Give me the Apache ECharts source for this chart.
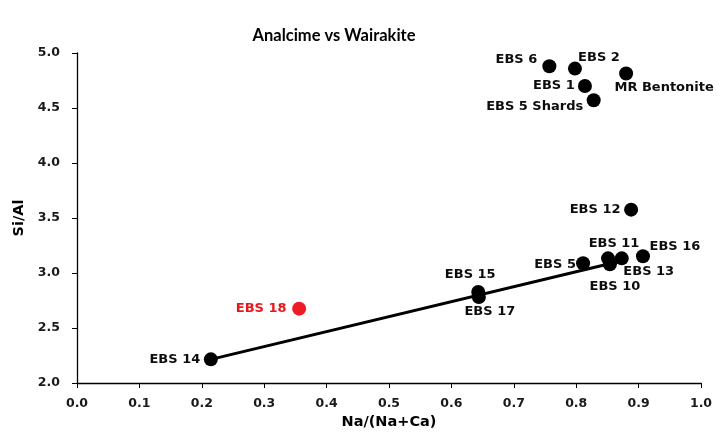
<!DOCTYPE html>
<html>
<head>
<meta charset="utf-8">
<script src="https://cdn.jsdelivr.net/npm/echarts@6/dist/echarts.min.js"></script>
<style>html,body{margin:0;padding:0;background:#fff}#c{width:720px;height:444px}</style>
</head>
<body>
<div id="c"></div>
<script>
const names = ['EBS 6','EBS 2','EBS 1','MR Bentonite','EBS 5 Shards','EBS 12','EBS 11','EBS 16','EBS 13','EBS 10','EBS 5','EBS 15','EBS 17','EBS 14'];
const xVals = [0.757,0.798,0.814,0.880,0.828,0.888,0.851,0.907,0.873,0.854,0.811,0.643,0.644,0.2145];
const yVals = [4.879,4.858,4.700,4.813,4.570,3.576,3.133,3.152,3.133,3.079,3.088,2.827,2.782,2.215];
const redNames = ['EBS 18'];
const redX = [0.356];
const redY = [2.676];
const trendX = [0.2145, 0.88];
const trendY = [2.215, 3.12];
const xTicks = ['0.0','0.1','0.2','0.3','0.4','0.5','0.6','0.7','0.8','0.9','1.0'];
const yTicks = ['2.0','2.5','3.0','3.5','4.0','4.5','5.0'];

// label placement (offset of label centre from the marker centre, px)
const labelOffsets = {
  'EBS 6':[-33,-7],'EBS 2':[24,-11],'EBS 1':[-31,0],'MR Bentonite':[38,14],
  'EBS 5 Shards':[-59,6],'EBS 12':[-36,0],'EBS 11':[6,-15],'EBS 16':[32,-10],
  'EBS 13':[27,13],'EBS 10':[5,22],'EBS 5':[-28,1],'EBS 15':[-8,-17],
  'EBS 17':[11,15],'EBS 14':[-36,0],'EBS 18':[-38,0]
};
const FONT = 'DejaVu Sans';
function mk(n, x, y, color){
  return {name:n, value:[x,y], label:{show:true, position:'inside', offset:labelOffsets[n],
    formatter:n, color:color, fontFamily:FONT, fontWeight:'bold', fontSize:13}};
}
const blackData = names.map((n,i)=>mk(n,xVals[i],yVals[i],'#0d0d0d'));
const redData = redNames.map((n,i)=>mk(n,redX[i],redY[i],'#e8161b'));
const trendData = trendX.map((x,i)=>[x,trendY[i]]);

const chart = echarts.init(document.getElementById('c'), null, {renderer:'canvas'});
chart.setOption({
  animation:false,
  backgroundColor:'#fff',
  title:{text:'Analcime vs Wairakite', left:329, top:22, textAlign:'center',
    textStyle:{fontFamily:'Lato', fontWeight:'bold', fontSize:16.5, color:'#000'}},
  grid:{left:77, right:19, top:53, bottom:61, containLabel:false},
  xAxis:{type:'value', min:0, max:1, interval:0.1,
    name:'Na/(Na+Ca)', nameLocation:'middle', nameGap:31,
    nameTextStyle:{fontFamily:FONT, fontWeight:'bold', fontSize:14.5, color:'#000'},
    axisLine:{lineStyle:{color:'#000', width:1.3}},
    axisTick:{show:true, length:5, lineStyle:{color:'#000'}},
    axisLabel:{margin:14, fontFamily:FONT, fontWeight:'bold', fontSize:12.5, color:'#1a1a1a',
      formatter:(v)=>xTicks[Math.round(v*10)]},
    splitLine:{show:false}},
  yAxis:{type:'value', min:2, max:5, interval:0.5,
    name:'Si/Al', nameLocation:'middle', nameGap:50, nameRotate:90,
    nameTextStyle:{fontFamily:FONT, fontWeight:'bold', fontSize:14.5, color:'#000'},
    axisLine:{show:true, lineStyle:{color:'#000', width:1.3}},
    axisTick:{show:true, length:5, lineStyle:{color:'#000'}},
    axisLabel:{margin:17, fontFamily:FONT, fontWeight:'bold', fontSize:12.5, color:'#1a1a1a',
      formatter:(v)=>yTicks[Math.round((v-2)*2)]},
    splitLine:{show:false}},
  series:[
    {type:'line', data:trendData, symbol:'none', lineStyle:{color:'#000', width:3}, z:1},
    {type:'scatter', data:blackData, symbolSize:14, itemStyle:{color:'#000', opacity:1}, z:3},
    {type:'scatter', data:redData, symbolSize:14, itemStyle:{color:'#ee1c25', opacity:1}, z:3}
  ]
});
</script>
</body>
</html>
